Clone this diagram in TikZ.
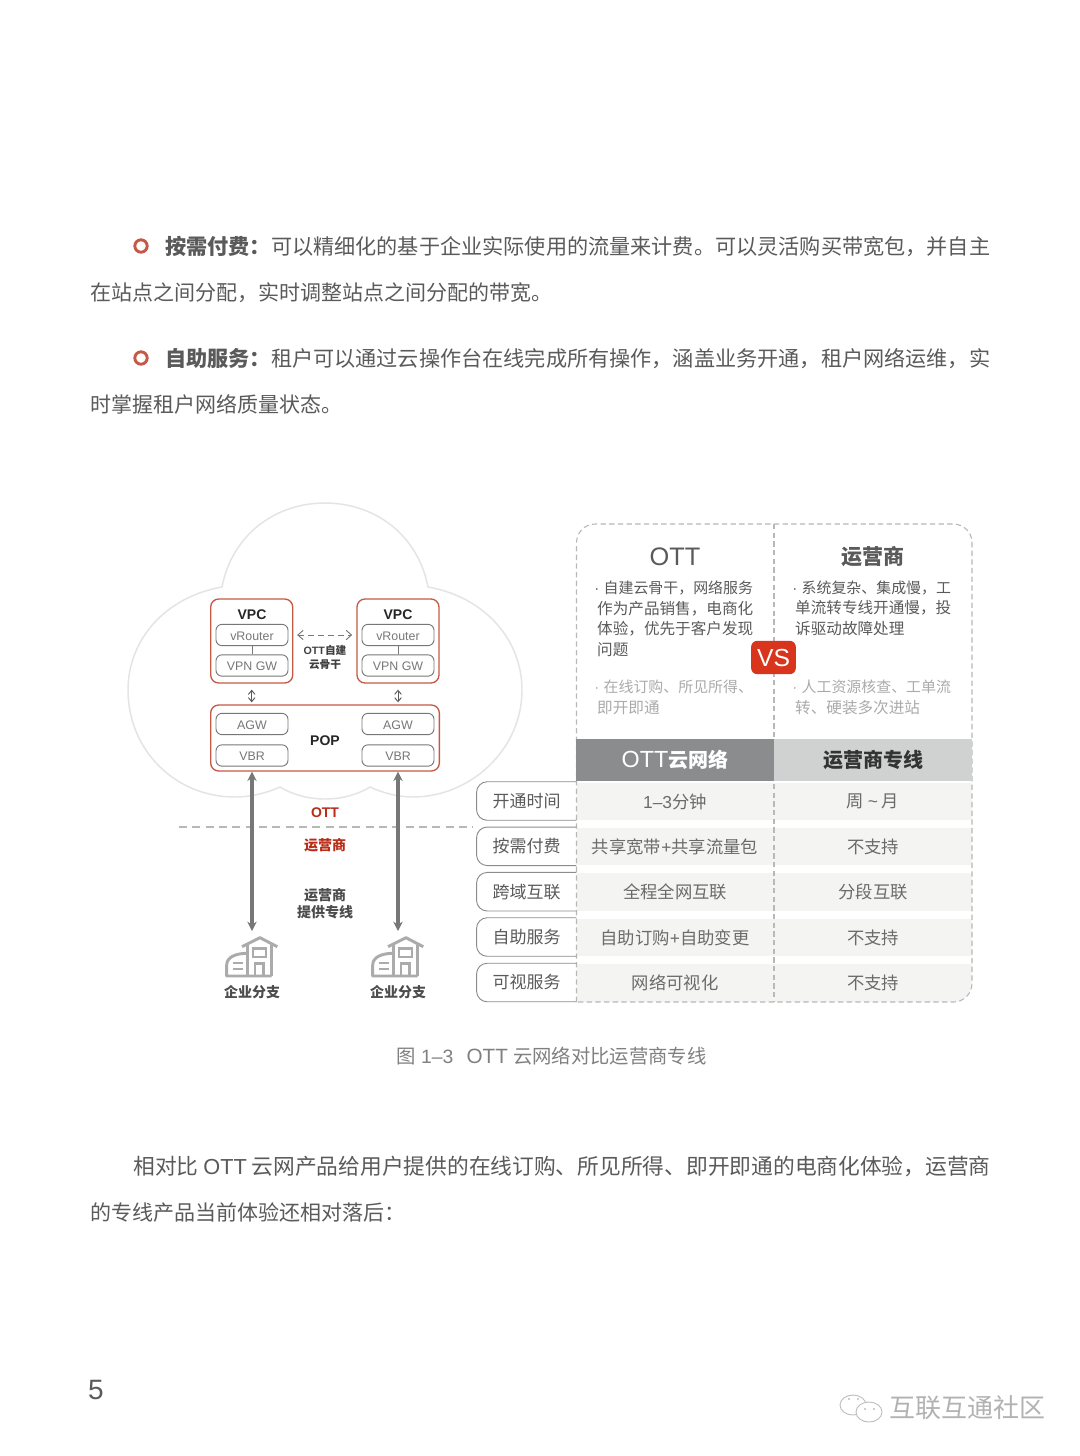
\documentclass[tikz,border=0pt]{standalone}
\usepackage{fontspec}
\setmainfont{Noto Sans CJK SC}
\newfontfamily\lat{Liberation Sans}
\usetikzlibrary{positioning,arrows.meta}
\definecolor{bodygray}{HTML}{5A5A5A}
\definecolor{softgray}{HTML}{ABABAB}
\definecolor{midgray}{HTML}{777777}
\definecolor{boxred}{HTML}{C45A45}
\definecolor{mainred}{HTML}{D9341C}
\definecolor{darkband}{HTML}{8A8C8E}
\definecolor{lightband}{HTML}{D0D2D2}
\definecolor{rowfill}{HTML}{F4F4F2}
\definecolor{cloudline}{HTML}{E4E4E4}
\newcommand{\fitline}[2]{\resizebox{#1}{!}{#2}}

\begin{document}
\begin{tikzpicture}[
  x=0.75pt, y=-0.75pt,
  bodyline/.style={anchor=west, inner sep=0pt, text=bodygray, font=\fontsize{15.75pt}{18pt}\selectfont},
  vpcbox/.style={draw=boxred, line width=1pt, rounded corners=6pt, minimum width=61.5pt, minimum height=63pt, inner sep=0pt},
  popbox/.style={draw=boxred, line width=1pt, rounded corners=6pt, minimum width=171.5pt, minimum height=49.5pt, inner sep=0pt},
  gwbox/.style={draw=midgray, line width=0.7pt, rounded corners=4.5pt, minimum width=54pt, minimum height=16pt, inner sep=0pt,
    text height=7.6pt, text=midgray, font=\lat\fontsize{9.3pt}{11pt}\selectfont},
  bigbold/.style={inner sep=0pt, text=black!85, font=\lat\bfseries\fontsize{10.5pt}{12pt}\selectfont},
  cnbold/.style={inner sep=0pt, align=center, text=black!70, font=\bfseries\fontsize{10.5pt}{13pt}\selectfont},
  redbold/.style={inner sep=0pt, text=mainred!85!black, font=\bfseries\fontsize{10.5pt}{12pt}\selectfont},
  longarr/.style={draw=midgray, line width=2.4pt, {Stealth[length=7pt,width=7pt]}-{Stealth[length=7pt,width=7pt]}},
  shortarr/.style={{Straight Barb[length=3pt,width=5pt]}-{Straight Barb[length=3pt,width=5pt]}, black!65, line width=0.7pt},
  dasharr/.style={{Straight Barb[length=4pt,width=7pt]}-{Straight Barb[length=4pt,width=7pt]}, midgray, line width=0.7pt, dash pattern=on 4pt off 3.5pt},
  panelline/.style={draw=black!28, line width=0.8pt, dash pattern=on 4pt off 2.5pt},
  rowcell/.style={fill=rowfill, minimum height=28pt, inner sep=0pt, text=bodygray!90, font=\fontsize{13pt}{15pt}\selectfont},
  rowlab/.style={minimum width=74.5pt, minimum height=28.5pt, inner sep=0pt, text=bodygray, font=\fontsize{12.75pt}{15pt}\selectfont},
  laboutline/.style={draw=black!45, line width=0.7pt, rounded corners=8pt},
  bandcell/.style={minimum width=148.5pt, minimum height=32pt, inner sep=0pt, font=\bfseries\fontsize{15pt}{18pt}\selectfont},
  paratext/.style={anchor=north west, inner sep=0pt, align=left, font=\fontsize{11.7pt}{15.4pt}\selectfont},
  bldg/.pic={
    \draw[softgray, line width=2.2pt, line join=round] (-10,-10.3) -- (8,-19.3) -- (25.3,-10.3);
    \draw[softgray, line width=2.2pt, line join=round] (-4.7,-12) -- (-4.7,19) (19.7,-12) -- (19.7,19);
    \draw[softgray, line width=2.2pt, line join=round] (-4.7,-3.7) .. controls (-16,-3.7) and (-25.3,0) .. (-25.3,8) -- (-25.3,19) -- (19.7,19);
    \draw[softgray, line width=1.8pt] (0.7,-8.7) rectangle (14,-0.3);
    \draw[softgray, line width=1.8pt] (3,19) -- (3,6.3) -- (11.3,6.3) -- (11.3,19);
    \draw[softgray, line width=1.5pt] (-18.7,5.7) -- (-8.7,5.7) (-18.7,12.3) -- (-8.7,12.3);
  },
]
\useasboundingbox[fill=white] (0,0) rectangle (1080,1456);

\draw[boxred, line width=2.2pt] (141,246) circle[radius=6.2];
\node[bodyline] (para1a) at (165,246.7) {\fitline{618.75pt}{\textbf{按需付费：}可以精细化的基于企业实际使用的流量来计费。可以灵活购买带宽包，并自主}};
\node[bodyline] (para1b) at (90,292.7) {在站点之间分配，实时调整站点之间分配的带宽。};
\draw[boxred, line width=2.2pt] (141,358) circle[radius=6.2];
\node[bodyline] (para2a) at (165,358.7) {\fitline{618.75pt}{\textbf{自助服务：}租户可以通过云操作台在线完成所有操作，涵盖业务开通，租户网络运维，实}};
\node[bodyline] (para2b) at (90,404.5) {时掌握租户网络质量状态。};

\draw[cloudline, line width=1.1pt] (222,587) .. controls (232,535) and (275,503) .. (325,503)
  .. controls (375,503) and (418,535) .. (428,587)
  .. controls (485,597) and (522,640) .. (522,690)
  .. controls (522,750) and (470,797) .. (413,797)
  .. controls (398,797) and (383,793) .. (370,787)
  .. controls (357,795) and (341,799) .. (325,799)
  .. controls (309,799) and (293,795) .. (280,787)
  .. controls (267,793) and (250,797) .. (235,797)
  .. controls (175,797) and (128,750) .. (128,690)
  .. controls (128,640) and (165,597) .. (222,587);

\node[vpcbox] (vpcl) at (251.7,641) {};
\node[vpcbox] (vpcr) at (398,641) {};
\node[bigbold] (vpclt) at (252,615) {VPC};
\node[bigbold] (vpcrt) at (398,615) {VPC};
\node[gwbox] (vrl) at (252,635) {vRouter};
\node[gwbox] (vgl) at (252,665.5) {VPN GW};
\node[gwbox] (vrr) at (398,635) {vRouter};
\node[gwbox] (vgr) at (398,665.5) {VPN GW};
\draw[midgray, line width=0.7pt] (vrl) -- (vgl);
\draw[midgray, line width=0.7pt] (vrr) -- (vgr);
\draw[dasharr, shorten <=6.5pt, shorten >=7pt] (vrl.east) -- (vrr.west);
\node[cnbold, text=black!75, font=\bfseries\fontsize{8pt}{9.8pt}\selectfont] (ottbb) at (325,657.5) {{\lat OTT}自建\\云骨干};

\node[popbox] (pop) at (325,738) {};
\node[bigbold] (popt) at (325,741) {POP};
\node[gwbox] (agwl) at (252,724) {AGW};
\node[gwbox] (vbrl) at (252,755.5) {VBR};
\node[gwbox] (agwr) at (398,724) {AGW};
\node[gwbox] (vbrr) at (398,755.5) {VBR};
\draw[shortarr, shorten <=4.5pt, shorten >=1.5pt] (vpcl.south) -- (vpcl.south|-pop.north);
\draw[shortarr, shorten <=4.5pt, shorten >=1.5pt] (vpcr.south) -- (vpcr.south|-pop.north);

\draw[black!28, line width=0.8pt, dash pattern=on 6pt off 4pt] (179,827) -- (473,827);
\node[redbold, font=\lat\bfseries\fontsize{10.5pt}{12pt}\selectfont] (ottlab) at (325,813) {OTT};
\node[redbold] (isplab) at (325,845) {运营商};
\node[cnbold] (linelab) at (325,903.5) {运营商\\提供专线};

\pic at (252,957) {bldg};
\pic at (398,957) {bldg};
\node[cnbold] (brl) at (252,992) {企业分支};
\node[cnbold] (brr) at (398,992) {企业分支};
\coordinate (hubl) at (252,931);
\coordinate (hubr) at (398,931);
\draw[longarr] (vbrl|-pop.south) -- (hubl);
\draw[longarr] (vbrr|-pop.south) -- (hubr);

\begin{scope}
  \clip[rounded corners=14pt] (576.5,1002) -- (576.5,524) -- (972,524) -- (972,1002) -- (576.5,1002);
  \node[rowcell, minimum width=148.5pt] (c1a) at (675,801.8) {{\lat 1–3}分钟};
  \node[rowcell, minimum width=148.5pt] (c1b) at (873,801.8) {周 {\lat\textasciitilde} 月};
  \node[rowcell, minimum width=148.5pt] (c2a) at (675,846.8) {共享宽带{\lat +}共享流量包};
  \node[rowcell, minimum width=148.5pt] (c2b) at (873,846.8) {不支持};
  \node[rowcell, minimum width=148.5pt] (c3a) at (675,892) {全程全网互联};
  \node[rowcell, minimum width=148.5pt] (c3b) at (873,892) {分段互联};
  \node[rowcell, minimum width=148.5pt] (c4a) at (675,937.5) {自助订购{\lat +}自助变更};
  \node[rowcell, minimum width=148.5pt] (c4b) at (873,937.5) {不支持};
  \node[rowcell, minimum width=148.5pt] (c5a) at (675,983) {网络可视化};
  \node[rowcell, minimum width=148.5pt] (c5b) at (873,983) {不支持};
\end{scope}
\draw[panelline, rounded corners=14pt] (576.5,1002) -- (576.5,524) -- (972,524) -- (972,1002) -- (576.5,1002);
\draw[panelline] (774,524) -- (774,1002);

\node[bandcell, fill=darkband, text=white] (hdra) at (675,760) {\raisebox{-0.8pt}{{\lat\mdseries\fontsize{17.5pt}{18pt}\selectfont OTT}云网络}};
\node[bandcell, fill=lightband, text=black!80] (hdrb) at (873,760) {\raisebox{-0.8pt}{运营商专线}};

\node[inner sep=0pt, text=bodygray, font=\lat\fontsize{19pt}{22pt}\selectfont] (ttla) at (675,557) {OTT};
\node[inner sep=0pt, text=bodygray, font=\bfseries\fontsize{15.75pt}{19pt}\selectfont] (ttlb) at (873,557) {运营商};
\node[paratext, text=bodygray] (txta) at (594,580.5) {\fitline{119pt}{{\lat ·}\hspace{3.5pt}自建云骨干，网络服务}\\\hspace*{2.2pt}作为产品销售，电商化\\\hspace*{2.2pt}体验，优先于客户发现\\\hspace*{2.2pt}问题};
\node[paratext, text=softgray] (txtb) at (594,680) {\fitline{119pt}{{\lat ·}\hspace{3.5pt}在线订购、所见所得、}\\\hspace*{2.2pt}即开即通};
\node[paratext, text=bodygray] (txtc) at (792,580.5) {\fitline{119pt}{{\lat ·}\hspace{3.5pt}系统复杂、集成慢，工}\\\hspace*{2.2pt}单流转专线开通慢，投\\\hspace*{2.2pt}诉驱动故障处理};
\node[paratext, text=softgray] (txtd) at (792,680) {\fitline{119pt}{{\lat ·}\hspace{3.5pt}人工资源核查、工单流}\\\hspace*{2.2pt}转、硬装多次进站};
\node[fill=mainred, rounded corners=4.5pt, minimum width=33.5pt, minimum height=25pt, inner sep=0pt, text=white, font=\lat\fontsize{18.5pt}{22pt}\selectfont] (vs) at (773.5,657.5) {VS};

\node[rowlab] (lab1) at (526.5,801) {\raisebox{-0.6pt}{开通时间}};
\node[rowlab] (lab2) at (526.5,846.3) {\raisebox{-0.6pt}{按需付费}};
\node[rowlab] (lab3) at (526.5,891.7) {跨域互联};
\node[rowlab] (lab4) at (526.5,937) {\raisebox{-0.6pt}{自助服务}};
\node[rowlab] (lab5) at (526.5,982.5) {可视服务};
\draw[laboutline] (lab1.north east) -- (lab1.north west) -- (lab1.south west) -- (lab1.south east);
\draw[laboutline] (lab2.north east) -- (lab2.north west) -- (lab2.south west) -- (lab2.south east);
\draw[laboutline] (lab3.north east) -- (lab3.north west) -- (lab3.south west) -- (lab3.south east);
\draw[laboutline] (lab4.north east) -- (lab4.north west) -- (lab4.south west) -- (lab4.south east);
\draw[laboutline] (lab5.north east) -- (lab5.north west) -- (lab5.south west) -- (lab5.south east);

\node[inner sep=0pt, text=black!50, font=\fontsize{14.5pt}{17pt}\selectfont] (cap) at (551.5,1056) {图\hspace{4pt}{\lat 1–3}\hspace{10pt}{\lat\fontsize{15.5pt}{17pt}\selectfont OTT}\hspace{4pt}云网络对比运营商专线};

\node[bodyline] (para3a) at (133,1166.5) {\fitline{643pt}{相对比 {\lat OTT} 云网产品给用户提供的在线订购、所见所得、即开即通的电商化体验，运营商}};
\node[bodyline] (para3b) at (90,1212.5) {的专线产品当前体验还相对落后：};

\node[inner sep=0pt, text=bodygray, font=\lat\fontsize{21pt}{24pt}\selectfont] (pageno) at (96,1390) {5};

\draw[black!25, line width=0.7pt, fill=white] (853,1405) ellipse[x radius=13, y radius=10];
\draw[black!25, line width=0.7pt, fill=white] (869,1412) ellipse[x radius=13, y radius=10];
\fill[black!25] (849,1399) circle[radius=1.2] (858,1399) circle[radius=1.2] (865,1409) circle[radius=1.2] (874,1409) circle[radius=1.2];
\node[inner sep=0pt, text=black!30, font=\fontsize{19.5pt}{22pt}\selectfont] (mark) at (967,1408) {互联互通社区};
\end{tikzpicture}
\end{document}
